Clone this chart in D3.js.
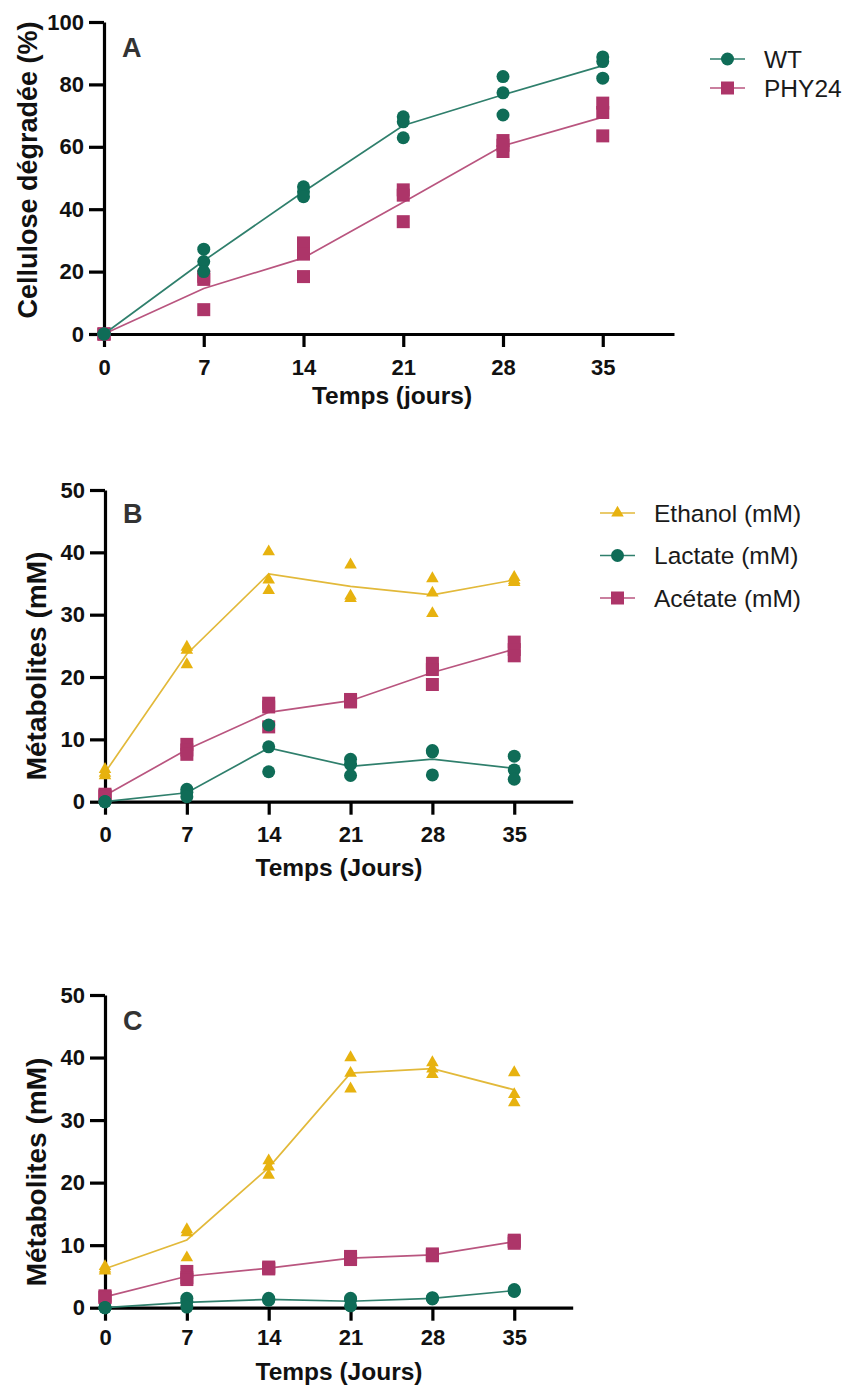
<!DOCTYPE html>
<html><head><meta charset="utf-8">
<script src="https://cdn.jsdelivr.net/npm/d3@7"></script>
<style>body{margin:0;background:#fff}svg{display:block}</style>
</head><body>
<svg id="chart" width="846" height="1387"></svg>
<script>
const days = [0, 7, 14, 21, 28, 35];
const xTicks = [0, 7, 14, 21, 28, 35];
const yTicksA = [0, 20, 40, 60, 80, 100];
const yTicksBC = [0, 10, 20, 30, 40, 50];

// Panel A : cellulose dégradée (%) — 3 réplicats par jour
const A_WT = [[0,0,0],[27.2,23.2,20.0],[47.2,45.6,44.0],[69.6,68.0,62.9],[82.5,77.3,70.2],[88.8,87.3,82.0]];
const A_PHY24 = [[0,0,0],[18.5,17.5,7.8],[29.2,25.6,18.4],[46.2,44.5,36.0],[62.0,60.5,58.5],[74.0,71.0,63.5]];

// Panel B : métabolites (mM)
const B_ethanol = [[5.2,4.6,4.2],[24.8,24.3,22.0],[40.1,35.6,33.9],[38.0,33.0,32.6],[35.8,33.5,30.2],[36.0,35.5,35.2]];
const B_lactate = [[0,0,0],[2.0,1.5,0.8],[12.3,8.8,4.8],[6.8,6.0,4.2],[8.2,8.0,4.3],[7.3,5.1,3.6]];
const B_acetate = [[1.2,1.0,0.8],[9.2,8.3,7.6],[15.8,15.2,12.0],[16.4,16.2,16.0],[22.2,21.2,18.8],[25.6,24.4,23.4]];

// Panel C : métabolites (mM)
const C_ethanol = [[6.6,6.2,5.9],[12.5,12.0,8.0],[23.5,22.5,21.2],[40.0,37.5,35.0],[39.2,38.2,37.3],[37.6,34.1,32.8]];
const C_lactate = [[0,0,0],[1.5,1.0,0.1],[1.5,1.3,1.2],[1.5,1.3,0.3],[1.6,1.5,1.4],[2.9,2.7,2.6]];
const C_acetate = [[1.9,1.7,1.6],[5.8,4.8,4.5],[6.5,6.3,6.2],[8.2,7.9,7.7],[8.6,8.4,8.3],[10.8,10.6,10.3]];

const GREEN = "#0f6c57", GREEN_L = "#2f7f6c";
const PINK = "#ad3569", PINK_L = "#b9557f";
const YEL = "#e7b20f", YEL_L = "#e2b93a";

const svg = d3.select("#chart");
const FONT = "'Liberation Sans', Arial, Helvetica, sans-serif";

const shapes = {
  circle: d3.symbol().type(d3.symbolCircle).size(Math.PI * 6.5 * 6.5),
  square: d3.symbol().type(d3.symbolSquare).size(13 * 13),
  triangle: d3.symbol().type(d3.symbolTriangle).size(68)
};

function panel(cfg) {
  const g = svg.append("g");
  const x = d3.scaleLinear().domain([0, 40]).range(cfg.xr);
  const y = d3.scaleLinear().domain(cfg.yd).range(cfg.yr);

  const xAxis = g.append("g").attr("transform", `translate(0,${cfg.yr[0]})`)
    .call(d3.axisBottom(x).tickValues(xTicks).tickSize(13).tickSizeOuter(0).tickPadding(cfg.xPad));
  const yAxis = g.append("g").attr("transform", `translate(${cfg.xr[0]},0)`)
    .call(d3.axisLeft(y).tickValues(cfg.yticks).tickSize(15).tickSizeOuter(0).tickPadding(5));
  [xAxis, yAxis].forEach(a => {
    a.select(".domain").attr("stroke", "#000").attr("stroke-width", 3.2);
    a.selectAll(".tick line").attr("stroke", "#000").attr("stroke-width", 3.2);
    a.selectAll(".tick text").attr("fill", "#111").style("font-family", FONT)
      .style("font-size", "22px").style("font-weight", "bold");
  });

  // series
  cfg.series.forEach(s => {
    const means = s.data.map((v, i) => [days[i], d3.mean(v)]);
    g.append("path").datum(means)
      .attr("fill", "none").attr("stroke", s.line).attr("stroke-width", 1.7)
      .attr("d", d3.line().x(d => x(d[0])).y(d => y(d[1])));
    const pts = [];
    s.data.forEach((v, i) => v.forEach(val => pts.push([days[i], val])));
    g.append("g").selectAll("path").data(pts).join("path")
      .attr("transform", d => `translate(${x(d[0])},${y(d[1])})`)
      .attr("d", shapes[s.shape]()).attr("fill", s.color);
  });

  // panel letter
  g.append("text").attr("x", cfg.xr[0] + 18).attr("y", cfg.letterY)
    .text(cfg.letter).attr("fill", "#333").style("font-family", FONT)
    .style("font-size", "27px").style("font-weight", "bold");

  // axis titles
  g.append("text").attr("x", cfg.xTitleX).attr("y", cfg.xTitleY)
    .attr("text-anchor", "middle").text(cfg.xTitle).attr("fill", "#111")
    .style("font-family", FONT).style("font-size", "24.5px").style("font-weight", "bold");
  g.append("text").attr("transform", `translate(${cfg.yTitleX},${cfg.yTitleY}) rotate(-90)`)
    .attr("text-anchor", "middle").text(cfg.yTitle).attr("fill", "#111")
    .style("font-family", FONT).style("font-size", cfg.yTitleSize + "px").style("font-weight", "bold");

  // legend
  if (cfg.legend) {
    const lg = g.append("g");
    cfg.legend.forEach((s, i) => {
      const ly = cfg.legendY + i * cfg.legendStep;
      lg.append("line").attr("x1", cfg.legendX).attr("x2", cfg.legendX + 35)
        .attr("y1", ly).attr("y2", ly).attr("stroke", s.line).attr("stroke-width", 1.7);
      lg.append("path").attr("transform", `translate(${cfg.legendX + 17.5},${ly})`)
        .attr("d", shapes[s.shape]()).attr("fill", s.color);
      lg.append("text").attr("x", cfg.legendX + 54).attr("y", ly + 8.5)
        .text(s.name).attr("fill", "#1a1a1a").style("font-family", FONT)
        .style("font-size", "24.5px");
    });
  }
}

const sWT = {name: "WT", data: A_WT, color: GREEN, line: GREEN_L, shape: "circle"};
const sPHY = {name: "PHY24", data: A_PHY24, color: PINK, line: PINK_L, shape: "square"};

panel({
  xr: [104, 674], yd: [0, 100], yr: [334, 22], yticks: yTicksA, xPad: 12,
  letter: "A", letterY: 57, xTitle: "Temps (jours)", xTitleX: 392, xTitleY: 404,
  yTitle: "Cellulose dégradée (%)", yTitleX: 37, yTitleY: 170, yTitleSize: 27,
  series: [sPHY, sWT],
  legend: [sWT, sPHY], legendX: 710, legendY: 59, legendStep: 29
});

function metab(eth, lac, ace) {
  return {
    eth: {name: "Ethanol (mM)", data: eth, color: YEL, line: YEL_L, shape: "triangle"},
    lac: {name: "Lactate (mM)", data: lac, color: GREEN, line: GREEN_L, shape: "circle"},
    ace: {name: "Acétate (mM)", data: ace, color: PINK, line: PINK_L, shape: "square"}
  };
}
const mB = metab(B_ethanol, B_lactate, B_acetate);
panel({
  xr: [105, 572.7], yd: [0, 50], yr: [801.7, 490], yticks: yTicksBC, xPad: 12,
  letter: "B", letterY: 523, xTitle: "Temps (Jours)", xTitleX: 339, xTitleY: 876,
  yTitle: "Métabolites (mM)", yTitleX: 46, yTitleY: 666, yTitleSize: 28,
  series: [mB.ace, mB.eth, mB.lac],
  legend: [mB.eth, mB.lac, mB.ace], legendX: 600, legendY: 513, legendStep: 42.5
});

const mC = metab(C_ethanol, C_lactate, C_acetate);
panel({
  xr: [105, 572.7], yd: [0, 50], yr: [1307.7, 995], yticks: yTicksBC, xPad: 9,
  letter: "C", letterY: 1030, xTitle: "Temps (Jours)", xTitleX: 339, xTitleY: 1380,
  yTitle: "Métabolites (mM)", yTitleX: 46, yTitleY: 1172, yTitleSize: 28,
  series: [mC.ace, mC.eth, mC.lac]
});
</script>
</body></html>
